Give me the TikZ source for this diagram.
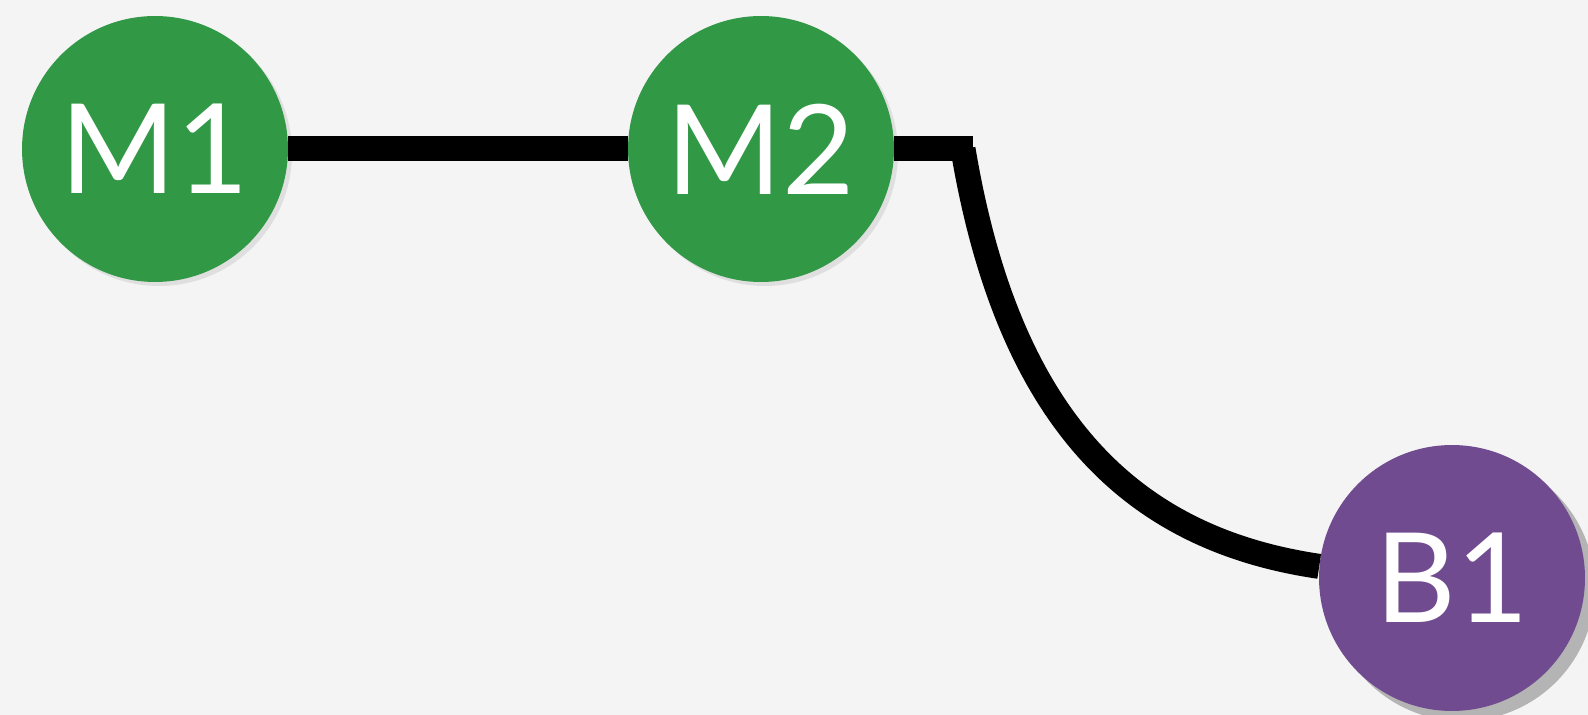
\documentclass[tikz,border=0pt]{standalone}
\usepackage{fontspec}
\setmainfont{Lato}
\usetikzlibrary{shadows}
\definecolor{bgColor}{RGB}{244, 244, 244}
\definecolor{mColor}{RGB}{49, 152, 70}
\definecolor{bColor}{RGB}{112, 75, 143}

\begin{document}
\begin{tikzpicture}[
    x = 0.02cm, y = -0.02cm,
    ball/.style = {circle, minimum size=5.32cm, inner sep=0mm,
        text=white, font=\fontsize{71}{71}\selectfont},
    link/.style = {line width=0.5cm, line cap=butt}
  ]
  \fill[bgColor] (0,0) rectangle (1588,715);
  \useasboundingbox (0,0) rectangle (1588,715);

  \node[ball, fill=mColor, drop shadow={shadow xshift=0.8mm, shadow yshift=-0.8mm, opacity=0.18}] (M1) at (155,149) {M1};
  \node[ball, fill=mColor, drop shadow={shadow xshift=0.8mm, shadow yshift=-0.8mm, opacity=0.18}] (M2) at (761,149) {M2};
  \node[ball, fill=bColor, drop shadow={shadow xshift=2mm, shadow yshift=-2mm, opacity=0.55}] (B1) at (1452,578) {B1};

  \coordinate (stub) at (973,149);
  \coordinate (bend) at (963,149);

  \draw[link] (M1) -- (M2);
  \draw[link] (M2) -- (stub);
  \draw[link] (bend) .. controls (1010,430) and (1140,540) .. (B1.175);
\end{tikzpicture}
\end{document}
